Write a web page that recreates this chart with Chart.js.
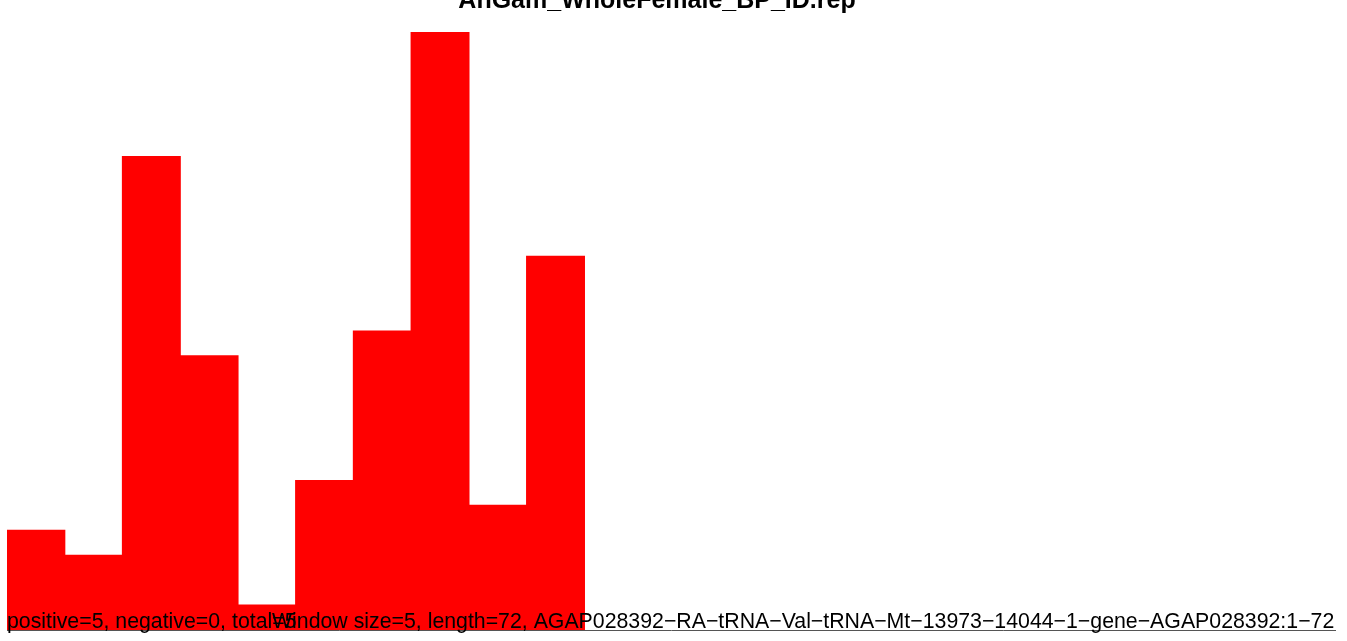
<!DOCTYPE html>
<html>
<head>
<meta charset="utf-8">
<title>AnGam_WholeFemale_BP_ID.rep</title>
<script src="https://cdn.jsdelivr.net/npm/chart.js@4/dist/chart.umd.min.js"></script>
<style>
  html, body { margin: 0; padding: 0; background: #fff; overflow: hidden; }
  canvas { display: block; }
</style>
</head>
<body>
<canvas id="repChart" width="1347" height="641"></canvas>
<script>
// window positions (23 slots on the axis, only the first 10 have counts)
const positions = ['1','2','3','4','5','6','7','8','9','10','11','12','13','14','15','16','17','18','19','20','21','22','23'];
const counts = [4, 3, 19, 11, 1, 6, 12, 24, 5, 15];

const titleText = 'AnGam_WholeFemale_BP_ID.rep';
const statsText = 'positive=5, negative=0, total=5';
const infoText = 'Window size=5, length=72, AGAP028392\u2212RA\u2212tRNA\u2212Val\u2212tRNA\u2212Mt\u221213973\u221214044\u22121\u2212gene\u2212AGAP028392:1\u221272';

const textPlugin = {
  id: 'textPlugin',
  afterDraw(chart) {
    const ctx = chart.ctx;
    ctx.save();
    ctx.fillStyle = '#000';
    ctx.textBaseline = 'alphabetic';

    ctx.font = 'bold 25px "Liberation Sans", Arial, sans-serif';
    ctx.textAlign = 'center';
    ctx.fillText(titleText, 657, 8);

    ctx.font = '21.3px "Liberation Sans", Arial, sans-serif';
    ctx.textAlign = 'left';
    ctx.fillText(statsText, 7, 628);
    ctx.fillText(infoText, 272, 628);
    ctx.restore();
  }
};

const ctx = document.getElementById('repChart').getContext('2d');
new Chart(ctx, {
  type: 'bar',
  data: {
    labels: positions,
    datasets: [{
      data: counts,
      backgroundColor: '#ff0000',
      borderWidth: 0,
      inflateAmount: 0.6,
      barPercentage: 1,
      categoryPercentage: 1
    }]
  },
  options: {
    responsive: false,
    animation: false,
    layout: { padding: { left: 7, right: 12, top: 32, bottom: 3 } },
    plugins: {
      legend: { display: false },
      tooltip: { enabled: false },
      title: { display: false }
    },
    scales: {
      x: {
        display: true,
        grid: { display: false },
        ticks: { display: false },
        border: { display: true, color: '#555', width: 1 }
      },
      y: {
        display: false,
        min: 0,
        max: 24
      }
    }
  },
  plugins: [textPlugin]
});
</script>
</body>
</html>
